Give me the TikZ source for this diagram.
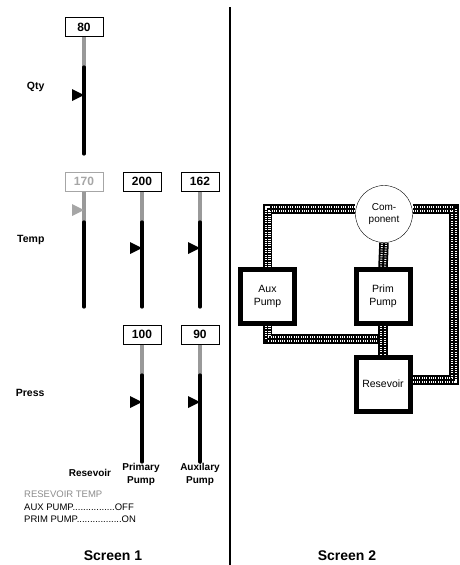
\documentclass[tikz,border=0pt]{standalone}
\usepackage{fontspec}
\setmainfont{Liberation Sans}
\usepackage{tikz}
\usetikzlibrary{positioning,backgrounds}

\begin{document}
\begin{tikzpicture}[
    x=1pt, y=-1pt,
    valbox/.style={rectangle, draw, line width=1pt, fill=white, minimum width=38pt, minimum height=19pt, inner sep=0pt, font=\fontsize{12}{12}\selectfont\bfseries},
    dimbox/.style={valbox, draw=black!35, text=black!35},
    stemgrey/.style={draw=black!40, line width=3.2pt},
    stemblack/.style={draw=black, line width=3.2pt, line cap=round},
    pointer/.style={fill=black},
    rowlabel/.style={anchor=east, font=\fontsize{10.5}{12}\selectfont\bfseries},
    collabel/.style={align=center, font=\fontsize{10}{13}\selectfont\bfseries},
    status/.style={anchor=west, inner sep=0pt, font=\fontsize{9.5}{11}\selectfont},
    screen/.style={font=\fontsize{14}{14}\selectfont\bfseries},
    unitbox/.style={rectangle, draw, line width=5pt, fill=white, minimum size=54pt, inner sep=0pt, align=center, font=\fontsize{10.5}{12.5}\selectfont},
    compnode/.style={circle, draw, fill=white, minimum size=57pt, inner sep=0pt, align=center, font=\fontsize{10}{12.5}\selectfont},
    pipe/.style={draw=black, line width=9.5pt, line join=miter,
        postaction={draw=white, line width=6pt, dash pattern=on 0.9pt off 1.4pt},
        postaction={draw=black, line width=1.8pt}}
]
\useasboundingbox (0,0) rectangle (459,565);

% Divider
\draw[line width=2pt] (230,7) -- (230,565);

% Row 1: Qty
\node[rowlabel] (lqty) at (48,87) {Qty};
\node[valbox] (b80) at (84,27) {80};
\draw[stemgrey] (b80.south) -- (84,67) coordinate (m80);
\draw[stemblack] (m80) -- (84,154);
\fill[pointer] (72,89) -- (84,95) -- (72,101) -- cycle;

% Row 2: Temp
\node[rowlabel] (ltemp) at (48,240) {Temp};
\node[dimbox] (b170) at (84,181.5) {170};
\node[valbox] (b200) at (142,181.5) {200};
\node[valbox] (b162) at (200,181.5) {162};
\draw[stemgrey] (b170.south) -- (84,222) coordinate (m170);
\draw[stemblack] (m170) -- (84,307);
\draw[stemgrey] (b200.south) -- (142,222) coordinate (m200);
\draw[stemblack] (m200) -- (142,307);
\draw[stemgrey] (b162.south) -- (200,222) coordinate (m162);
\draw[stemblack] (m162) -- (200,307);
\fill[black!35] (72,204) -- (84,210) -- (72,216) -- cycle;
\fill[pointer] (130,242) -- (142,248) -- (130,254) -- cycle;
\fill[pointer] (188,242) -- (200,248) -- (188,254) -- cycle;

% Row 3: Press
\node[rowlabel] (lpress) at (48,393) {Press};
\node[valbox] (b100) at (142,334.5) {100};
\node[valbox] (b90) at (200,334.5) {90};
\draw[stemgrey] (b100.south) -- (142,375) coordinate (m100);
\draw[stemblack] (m100) -- (142,462);
\draw[stemgrey] (b90.south) -- (200,375) coordinate (m90);
\draw[stemblack] (m90) -- (200,462);
\fill[pointer] (130,396) -- (142,402) -- (130,408) -- cycle;
\fill[pointer] (188,396) -- (200,402) -- (188,408) -- cycle;

% Column labels
\node[collabel] (cres) at (90,473) {Resevoir};
\node[collabel] (cprim) at (141,474) {Primary\\Pump};
\node[collabel] (caux) at (200,474) {Auxilary\\Pump};

% Status lines
\node[status, text=black!45] (s1) at (24,494) {RESEVOIR TEMP};
\node[status] (s2) at (24,507) {AUX PUMP................OFF};
\node[status] (s3) at (24,519) {PRIM PUMP.................ON};

% Screen titles
\node[screen] (scr1) at (113,556) {Screen 1};
\node[screen] (scr2) at (347,556) {Screen 2};

% Screen 2: units
\node[unitbox] (aux) at (267.5,296.5) {Aux\\Pump};
\node[unitbox] (prim) at (383,296.5) {Prim\\Pump};
\node[unitbox] (res) at (383,384) {Resevoir};
\node[compnode] (comp) at (384,214) {Com-\\ponent};
\coordinate (tl) at (267.5,209);
\coordinate (tr) at (454,209);
\coordinate (br) at (454,380);
\coordinate (jn) at (383,339);

% Screen 2: pipes
\begin{scope}[on background layer]
\path[pipe] (comp.west |- tl) -- (tl) -- (aux.north);
\path[pipe] (comp.east |- tr) -- (tr) -- (br) -- (res.east |- br);
\path[pipe] (comp.south) -- (prim.north);
\path[pipe] (aux.south) -- (aux.south |- jn) -- (jn);
\path[pipe] (prim.south) -- (res.north);
\end{scope}

\end{tikzpicture}
\end{document}
